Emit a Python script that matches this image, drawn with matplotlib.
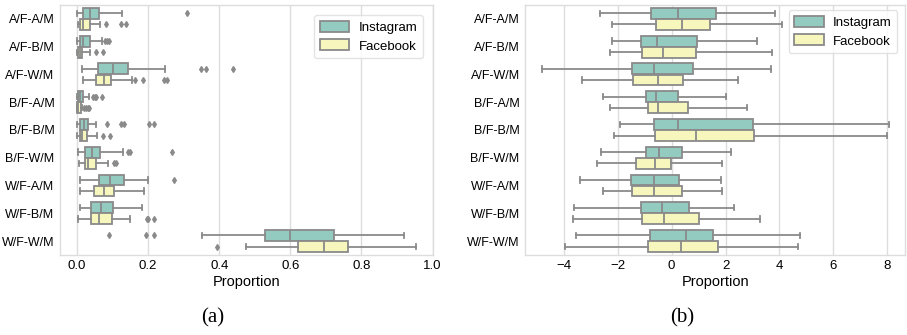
import matplotlib
matplotlib.use("Agg")
import matplotlib.pyplot as plt
from matplotlib.patches import Patch

categories = ["A/F-A/M", "A/F-B/M", "A/F-W/M", "B/F-A/M", "B/F-B/M",
              "B/F-W/M", "W/F-A/M", "W/F-B/M", "W/F-W/M"]
platforms = ["Instagram", "Facebook"]

# panel (a): raw proportions -- box stats
a_ig_lo = [0.0, 0.0, 0.014, 0.0, 0.0, 0.002, 0.009, 0.010, 0.353]
a_ig_q1 = [0.018, 0.008, 0.060, 0.002, 0.009, 0.022, 0.062, 0.040, 0.530]
a_ig_med = [0.037, 0.017, 0.101, 0.008, 0.020, 0.042, 0.093, 0.067, 0.600]
a_ig_q3 = [0.062, 0.036, 0.143, 0.018, 0.032, 0.065, 0.131, 0.101, 0.723]
a_ig_hi = [0.126, 0.070, 0.248, 0.034, 0.054, 0.129, 0.201, 0.184, 0.919]
a_ig_fl = [[0.309], [0.080, 0.084, 0.090], [0.350, 0.364, 0.438],
           [0.045, 0.050, 0.054, 0.071], [0.084, 0.124, 0.133, 0.202, 0.218],
           [0.143, 0.148, 0.267], [0.273], [], [0.090, 0.195, 0.217]]

a_fb_lo = [0.004, 0.0, 0.016, 0.0, 0.0, 0.006, 0.009, 0.002, 0.474]
a_fb_q1 = [0.010, 0.004, 0.053, 0.001, 0.008, 0.024, 0.047, 0.039, 0.622]
a_fb_med = [0.016, 0.008, 0.075, 0.004, 0.014, 0.030, 0.076, 0.062, 0.695]
a_fb_q3 = [0.036, 0.015, 0.095, 0.011, 0.029, 0.054, 0.105, 0.098, 0.763]
a_fb_hi = [0.064, 0.036, 0.156, 0.014, 0.057, 0.087, 0.188, 0.148, 0.953]
a_fb_fl = [[0.083, 0.125, 0.139], [0.054, 0.073], [0.162, 0.186, 0.244, 0.254],
           [0.019, 0.025, 0.030, 0.034], [0.073, 0.092], [0.104, 0.109], [],
           [0.196, 0.200, 0.217], [0.393]]

# panel (b): standardised proportions
b_ig_lo = [-2.65, -2.22, -4.80, -2.54, -1.90, -2.60, -3.40, -3.61, -3.54]
b_ig_q1 = [-0.77, -1.15, -1.46, -0.94, -0.66, -0.95, -1.50, -1.14, -0.81]
b_ig_med = [0.25, -0.53, -0.64, -0.58, 0.22, -0.48, -0.67, -0.37, 0.55]
b_ig_q3 = [1.66, 0.95, 0.81, 0.25, 3.00, 0.40, 0.29, 0.66, 1.52]
b_ig_hi = [3.82, 3.15, 3.69, 2.02, 8.05, 2.19, 1.83, 2.30, 4.76]

b_fb_lo = [-2.22, -2.29, -3.33, -2.28, -2.14, -2.76, -2.55, -3.64, -3.95]
b_fb_q1 = [-0.57, -1.08, -1.45, -0.89, -0.61, -1.33, -1.47, -1.09, -0.87]
b_fb_med = [0.40, -0.31, -0.51, -0.50, 0.90, -0.61, -0.64, -0.27, 0.33]
b_fb_q3 = [1.44, 0.89, 0.41, 0.61, 3.06, -0.01, 0.38, 1.02, 1.71]
b_fb_hi = [4.08, 3.73, 2.45, 2.78, 7.99, 1.86, 1.87, 3.26, 4.67]

COLORS = ["#93cbc1", "#f6f6bd"]
EDGE = "#8a8a8a"


def make_stats(lo, q1, med, q3, hi, fl=None):
    out = []
    for i in range(len(lo)):
        out.append({"whislo": lo[i], "q1": q1[i], "med": med[i], "q3": q3[i],
                    "whishi": hi[i], "fliers": fl[i] if fl else []})
    return out


def draw_panel(ax, groups, xlim, xticks, caption, cap_x, legend_xy):
    for k, stats in enumerate(groups):
        pos = [i + (k - 0.5) * 0.4 for i in range(len(categories))]
        ax.bxp(stats, positions=pos, widths=0.39, vert=False, patch_artist=True,
               showfliers=True, manage_ticks=False,
               boxprops=dict(facecolor=COLORS[k], edgecolor=EDGE, linewidth=1.3),
               medianprops=dict(color=EDGE, linewidth=1.3),
               whiskerprops=dict(color=EDGE, linewidth=1.3),
               capprops=dict(color=EDGE, linewidth=1.3),
               flierprops=dict(marker="d", markersize=3, markerfacecolor=EDGE,
                               markeredgecolor=EDGE))
    ax.set_yticks(range(len(categories)))
    ax.set_yticklabels(categories)
    ax.set_ylim(len(categories) - 0.5, -0.5)
    ax.set_xlim(*xlim)
    ax.set_xticks(xticks)
    ax.set_xlabel("Proportion", fontsize=10.5, labelpad=2)
    ax.tick_params(axis="both", length=0, labelsize=9.5, pad=4)
    ax.tick_params(axis="y", labelsize=9, pad=4)
    ax.grid(axis="x", color="#dddddd", linewidth=1.0)
    ax.set_axisbelow(True)
    for s in ax.spines.values():
        s.set_color("#dddddd")
        s.set_linewidth(1.0)
    handles = [Patch(facecolor=COLORS[k], edgecolor=EDGE, linewidth=1.3, label=platforms[k])
               for k in range(2)]
    ax.legend(handles=handles, loc="upper right", bbox_to_anchor=legend_xy, fontsize=9.5,
              frameon=True, edgecolor="#dddddd", fancybox=True, handlelength=2.2,
              handleheight=0.9, borderpad=0.45, labelspacing=0.4, handletextpad=0.7,
              borderaxespad=0.3)
    fig.text(cap_x, 0.05, caption, ha="center", va="center",
             fontsize=15, family="Liberation Serif")


plt.rcParams["font.family"] = ["Liberation Sans", "DejaVu Sans"]
fig = plt.figure(figsize=(9.07, 3.35), dpi=100)
ax1 = fig.add_axes([0.066, 0.239, 0.411, 0.746])
ax2 = fig.add_axes([0.579, 0.239, 0.419, 0.746])

draw_panel(ax1, [make_stats(a_ig_lo, a_ig_q1, a_ig_med, a_ig_q3, a_ig_hi, a_ig_fl),
                 make_stats(a_fb_lo, a_fb_q1, a_fb_med, a_fb_q3, a_fb_hi, a_fb_fl)],
           (-0.048, 1.0), [0.0, 0.2, 0.4, 0.6, 0.8, 1.0], "(a)", 213 / 907, (0.985, 0.975))
draw_panel(ax2, [make_stats(b_ig_lo, b_ig_q1, b_ig_med, b_ig_q3, b_ig_hi),
                 make_stats(b_fb_lo, b_fb_q1, b_fb_med, b_fb_q3, b_fb_hi)],
           (-5.43, 8.66), [-4, -2, 0, 2, 4, 6, 8], "(b)", 682 / 907, (0.99, 0.995))

fig.savefig("out.png", dpi=100)
